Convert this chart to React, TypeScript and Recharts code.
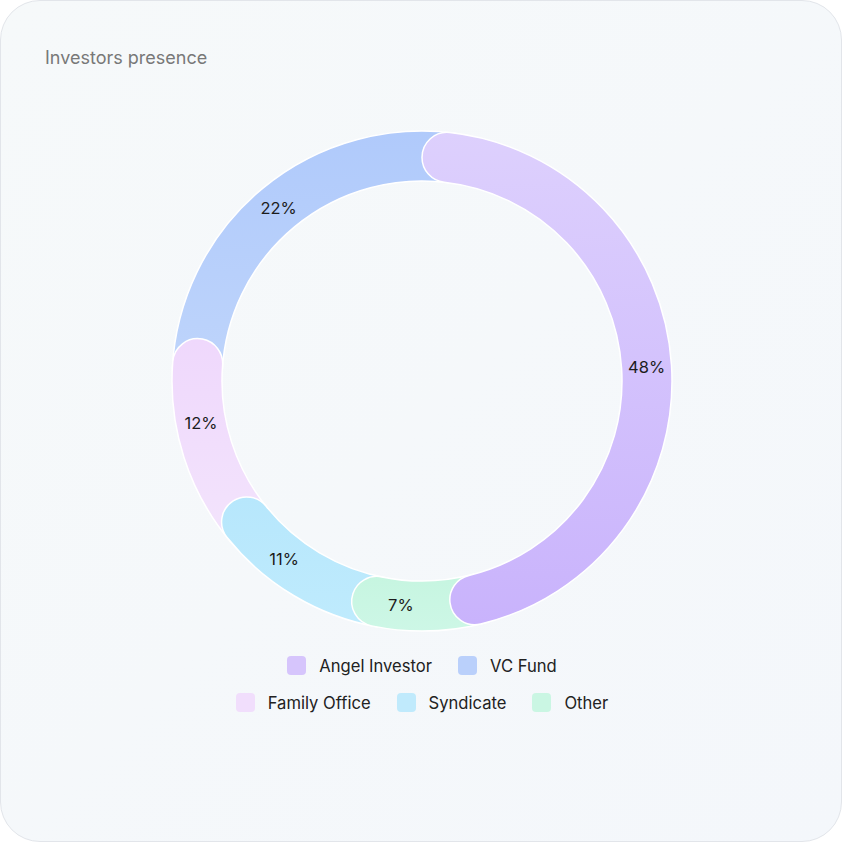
import React from 'react';
import { PieChart, Pie, Cell, Sector } from 'recharts';

// drawn counter-clockwise from the top so that Angel Investor ends up on top
const segments = ['VC Fund', 'Family Office', 'Syndicate', 'Other', 'Angel Investor'];
const shares = [22, 12, 11, 7, 48];
const gradients = [
  ['#b0cafb', '#bfd5fb'],
  ['#efd8fc', '#f3e4fc'],
  ['#b7e7fc', '#bfebfd'],
  ['#c6f5e0', '#cdf7e6'],
  ['#ddd0fd', '#c9b3fc'],
];

const legendRows = [
  ['Angel Investor', 'VC Fund'],
  ['Family Office', 'Syndicate', 'Other'],
];
const legendColors: Record<string, string> = {
  'Angel Investor': '#d6c5fc',
  'VC Fund': '#bad0fb',
  'Family Office': '#f1defc',
  'Syndicate': '#c0eafc',
  'Other': '#caf6e3',
};

const data = segments.map((name, i) => ({ name, value: shares[i] }));

const FONT = 'Inter, "Noto Sans", sans-serif';
const OVERLAP = 14; // degrees each segment runs on under its neighbour

const RingSector = (props: any) => {
  const { index, startAngle, endAngle } = props;
  const last = index === data.length - 1;
  const s = index === 0 ? startAngle - OVERLAP : startAngle;
  const e = last ? endAngle : endAngle + OVERLAP;
  return (
    <Sector
      {...props}
      startAngle={s}
      endAngle={e}
      cornerRadius={25}
      stroke="#ffffff"
      strokeWidth={1.5}
    />
  );
};

const renderLabel = (props: any) => {
  const { cx, cy, midAngle, innerRadius, outerRadius, value } = props;
  const r = (innerRadius + outerRadius) / 2;
  const rad = (-midAngle * Math.PI) / 180;
  const x = cx + r * Math.cos(rad);
  const y = cy + r * Math.sin(rad);
  return (
    <text x={x} y={y} textAnchor="middle" dominantBaseline="central" fill="#1c1c1c" fontSize={16.5} fontFamily={FONT}>
      {value}%
    </text>
  );
};

export default function App() {
  return (
    <div
      style={{
        position: 'absolute',
        left: 0,
        top: 0,
        width: 840,
        height: 840,
        borderRadius: 40,
        border: '1px solid #e2e5ea',
        background: 'linear-gradient(135deg, #f6f9fa 0%, #f4f7fb 100%)',
        overflow: 'hidden',
        fontFamily: FONT,
      }}
    >
      <div style={{ position: 'absolute', left: 44, top: 46, fontSize: 18, color: '#787878' }}>
        Investors presence
      </div>
      <div style={{ position: 'absolute', left: 0, top: 0 }}>
        <PieChart width={842} height={842} margin={{ top: 0, right: 0, bottom: 0, left: 0 }}>
          <defs>
            {gradients.map(([a, b], i) => (
              <linearGradient key={i} id={`seg-${i}`} x1="0" y1="0" x2="0" y2="1">
                <stop offset="0%" stopColor={a} />
                <stop offset="100%" stopColor={b} />
              </linearGradient>
            ))}
          </defs>
          <Pie
            data={data}
            dataKey="value"
            nameKey="name"
            cx={421}
            cy={380}
            innerRadius={200}
            outerRadius={250}
            startAngle={90}
            endAngle={450}
            paddingAngle={0}
            stroke="none"
            shape={RingSector}
            label={renderLabel}
            labelLine={false}
            isAnimationActive={false}
          >
            {data.map((d, i) => (
              <Cell key={d.name} fill={`url(#seg-${i})`} />
            ))}
          </Pie>
        </PieChart>
      </div>
      <div style={{ position: 'absolute', left: 0, top: 646, width: 842 }}>
        {legendRows.map((row, r) => (
          <div key={r} style={{ display: 'flex', justifyContent: 'center', gap: 26, height: 37, alignItems: 'center' }}>
            {row.map((name) => (
              <div key={name} style={{ display: 'flex', alignItems: 'center', gap: 13 }}>
                <span style={{ width: 19, height: 19, borderRadius: 4, background: legendColors[name], display: 'inline-block' }} />
                <span style={{ fontSize: 16.6, color: '#222222' }}>{name}</span>
              </div>
            ))}
          </div>
        ))}
      </div>
    </div>
  );
}
